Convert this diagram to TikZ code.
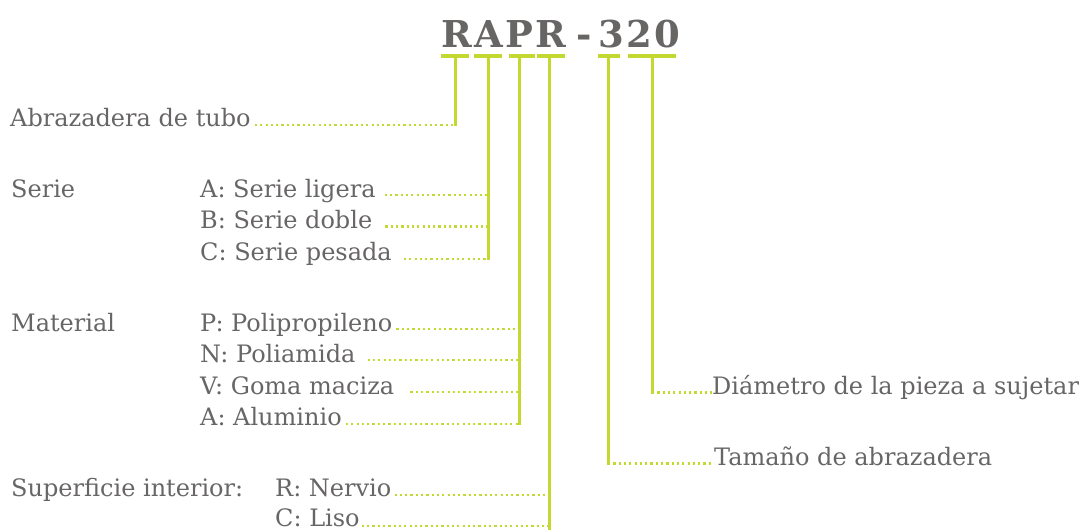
\documentclass[tikz,border=0pt]{standalone}
\usepackage{fontspec}
\setmainfont{DejaVu Serif}
\newfontfamily\codefont[LetterSpace=6]{DejaVu Serif}
\usepackage{tikz}
\usetikzlibrary{positioning}

\definecolor{codegrey}{RGB}{104,101,101}
\definecolor{codegreen}{RGB}{196,216,50}

\begin{document}
\begin{tikzpicture}[
    x=1pt, y=-1pt,
    codetxt/.style={anchor=base west, inner sep=0pt, text=codegrey, font=\fontsize{24}{28}\selectfont},
    codetitle/.style={anchor=base west, inner sep=0pt, text=codegrey, font=\codefont\fontsize{37}{42}\selectfont\bfseries},
    bar/.style={codegreen, line width=3.4pt},
    stem/.style={codegreen, line width=3pt},
    dots/.style={codegreen, line width=2.4pt, dash pattern=on 2.2pt off 3.1pt}
]
\useasboundingbox (0,0) rectangle (1079,532);

% Code
\node[codetitle] (title) at (441,48) {RAPR\kern11pt-\kern6pt320};

% Bars under the letters
\draw[bar] (441,56) -- (469,56);
\draw[bar] (474,56) -- (502,56);
\draw[bar] (509,56) -- (535,56);
\draw[bar] (537,56) -- (565,56);
\draw[bar] (598,56) -- (620,56);
\draw[bar] (628,56) -- (676,56);

% Stem tops
\coordinate (s1) at (455,56);
\coordinate (s2) at (488,56);
\coordinate (s3) at (519,56);
\coordinate (s4) at (549,56);
\coordinate (s5) at (608,56);
\coordinate (s6) at (652,56);

% Left column
\node[codetxt] (abr) at (10,127) {Abrazadera de tubo};

\node[codetxt] (serie) at (11,197) {Serie};
\node[codetxt] (serA) at (200,197) {A: Serie ligera};
\node[codetxt] (serB) at (200,228) {B: Serie doble};
\node[codetxt] (serC) at (200,260) {C: Serie pesada};

\node[codetxt] (mat) at (11,331) {Material};
\node[codetxt] (matP) at (200,331) {P: Polipropileno};
\node[codetxt] (matN) at (200,362) {N: Poliamida};
\node[codetxt] (matV) at (200,394) {V: Goma maciza};
\node[codetxt] (matA) at (200,425) {A: Aluminio};

\node[codetxt] (sup) at (11,496) {Superficie interior:};
\node[codetxt] (supR) at (275,496) {R: Nervio};
\node[codetxt] (supC) at (275,526) {C: Liso};

% Right column
\node[codetxt] (diam) at (712,394) {Diámetro de la pieza a sujetar};
\node[codetxt] (tam) at (714,465) {Tamaño de abrazadera};

% Dotted leaders
\coordinate (abr-e) at ([xshift=4pt, yshift=2pt]abr.base east);
\coordinate (serA-e) at ([xshift=9pt, yshift=2pt]serA.base east);
\coordinate (serB-e) at ([xshift=13pt, yshift=1.5pt]serB.base east);
\coordinate (serC-e) at ([xshift=12pt, yshift=1pt]serC.base east);
\coordinate (matP-e) at ([xshift=4pt, yshift=2pt]matP.base east);
\coordinate (matN-e) at ([xshift=12pt, yshift=2pt]matN.base east);
\coordinate (matV-e) at ([xshift=16pt, yshift=2pt]matV.base east);
\coordinate (matA-e) at ([xshift=4pt, yshift=1pt]matA.base east);
\coordinate (supR-e) at ([xshift=3pt, yshift=1pt]supR.base east);
\coordinate (supC-e) at ([xshift=2pt, yshift=0pt]supC.base east);
\coordinate (diam-w) at ([yshift=1.5pt]diam.base west);
\coordinate (tam-w) at ([yshift=1.5pt]tam.base west);

\draw[dots] (abr-e) -- (abr-e -| s1);
\draw[dots] (serA-e) -- (serA-e -| s2);
\draw[dots] (serB-e) -- (serB-e -| s2);
\draw[dots] (serC-e) -- (serC-e -| s2);
\draw[dots] (matP-e) -- (matP-e -| s3);
\draw[dots] (matN-e) -- (matN-e -| s3);
\draw[dots] (matV-e) -- (matV-e -| s3);
\draw[dots] (matA-e) -- (matA-e -| s3);
\draw[dots] (supR-e) -- (supR-e -| s4);
\draw[dots] (supC-e) -- (supC-e -| s4);
\draw[dots] (s6 |- diam-w) -- (diam-w);
\draw[dots] (s5 |- tam-w) -- (tam-w);

% Stems
\draw[stem] (s1) -- ([yshift=-1pt]s1 |- abr-e);
\draw[stem] (s2) -- ([yshift=-1pt]s2 |- serC-e);
\draw[stem] (s3) -- ([yshift=-1pt]s3 |- matA-e);
\draw[stem] (s4) -- ([yshift=-4pt]s4 |- supC-e);
\draw[stem] (s5) -- ([yshift=-1pt]s5 |- tam-w);
\draw[stem] (s6) -- ([yshift=-1pt]s6 |- diam-w);

\end{tikzpicture}
\end{document}
